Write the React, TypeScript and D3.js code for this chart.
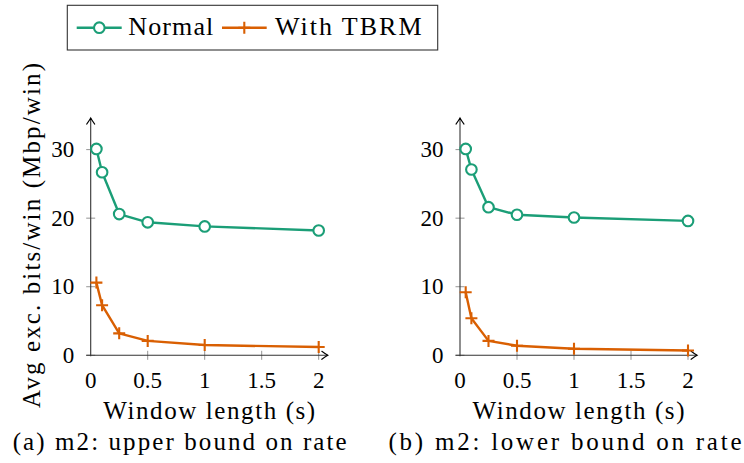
import React from 'react'
import * as d3 from 'd3'

// window lengths in seconds, shared by both panels
const windowLengths = [0.05, 0.1, 0.25, 0.5, 1, 2]
// (a) upper bound on rate
const upperNormal = [30.1, 26.7, 20.6, 19.4, 18.8, 18.2]
const upperTbrm = [10.6, 7.3, 3.2, 2.1, 1.5, 1.2]
// (b) lower bound on rate
const lowerNormal = [30.1, 27.1, 21.6, 20.5, 20.1, 19.6]
const lowerTbrm = [9.2, 5.4, 2.1, 1.4, 0.96, 0.7]

const xTicks = [0, 0.5, 1, 1.5, 2]
const yTicks = [0, 10, 20, 30]
const seriesNames = ['Normal', 'With TBRM']
const captions = ['(a) m2: upper bound on rate', '(b) m2: lower bound on rate']

const GREEN = '#1b9e77'
const ORANGE = '#d95f02'
const FONT = '"Liberation Serif", "Times New Roman", serif'

function Arrow({ x, y, dir }: { x: number; y: number; dir: 'right' | 'up' }) {
  const rot = dir === 'right' ? 0 : -90
  return (
    <path
      d="M-6,-4 Q-2,-1 0,0 Q-2,1 -6,4"
      transform={`translate(${x},${y}) rotate(${rot})`}
      fill="none"
      stroke="#000"
      strokeWidth={1.1}
      strokeLinecap="round"
    />
  )
}

function Panel({ x0, normal, tbrm, caption, captionX, captionW, yLabel }: {
  x0: number; normal: number[]; tbrm: number[]; caption: string; captionX: number; captionW: number; yLabel: boolean
}) {
  const x = d3.scaleLinear().domain([0, 2]).range([x0, x0 + 228])
  const y = d3.scaleLinear().domain([0, 30]).range([355.3, 149.6])
  const line = d3.line<number>().x((_, i) => x(windowLengths[i])).y(d => y(d))

  return (
    <g>
      {/* ticks */}
      {yTicks.map(t => (
        <line key={'yt' + t} x1={x(0) - 4.5} x2={x(0) + 4.5} y1={y(t)} y2={y(t)} stroke="#888" strokeWidth={0.9} />
      ))}
      {xTicks.filter(t => t > 0).map(t => (
        <line key={'xt' + t} x1={x(t)} x2={x(t)} y1={y(0) - 4.5} y2={y(0) + 4.5} stroke="#888" strokeWidth={0.9} />
      ))}
      {/* axes */}
      <line x1={x(0) - 4.5} x2={x(2.08)} y1={y(0)} y2={y(0)} stroke="#333" strokeWidth={1.1} />
      <line x1={x(0)} x2={x(0)} y1={y(0) + 1} y2={y(34.6)} stroke="#333" strokeWidth={1.1} />
      <Arrow x={x(2.08)} y={y(0)} dir="right" />
      <Arrow x={x(0)} y={y(34.6)} dir="up" />

      {/* tick labels */}
      {yTicks.map(t => (
        <text key={'yl' + t} x={x(0) - 16.5} y={y(t) + 7.5} textAnchor="end" fontSize={23} fontFamily={FONT}>{t}</text>
      ))}
      {xTicks.map(t => (
        <text key={'xl' + t} x={x(t)} y={388} textAnchor="middle" fontSize={23} fontFamily={FONT}>{t}</text>
      ))}

      {/* series */}
      <path d={line(normal) || ''} fill="none" stroke={GREEN} strokeWidth={2.4} strokeLinejoin="round" />
      <path d={line(tbrm) || ''} fill="none" stroke={ORANGE} strokeWidth={2.4} strokeLinejoin="round" />
      {normal.map((d, i) => (
        <circle key={'n' + i} cx={x(windowLengths[i])} cy={y(d)} r={5.3} fill="#fff" stroke={GREEN} strokeWidth={2.1} />
      ))}
      {tbrm.map((d, i) => {
        const cx = x(windowLengths[i]), cy = y(d)
        return (
          <path key={'t' + i} d={`M${cx - 6},${cy}H${cx + 6}M${cx},${cy - 6}V${cy + 6}`} stroke={ORANGE} strokeWidth={2.1} />
        )
      })}

      {/* labels */}
      <text x={x0 + 118.5} y={419} textAnchor="middle" fontSize={25} fontFamily={FONT}
        textLength={212} lengthAdjust="spacing">Window length (s)</text>
      <text x={captionX} y={450} textAnchor="middle" fontSize={25} fontFamily={FONT}
        textLength={captionW} lengthAdjust="spacing">{caption}</text>
      {yLabel && (
        <text transform="translate(40,235.5) rotate(-90)" textAnchor="middle" fontSize={25} fontFamily={FONT}
          textLength={345} lengthAdjust="spacing">
          Avg exc. bits/win (Mbp/win)
        </text>
      )}
    </g>
  )
}

function Legend() {
  const ly = 27.7
  return (
    <g>
      <rect x={67.3} y={5.3} width={370.4} height={44.7} fill="#fff" stroke="#333" strokeWidth={1.1} />
      <line x1={76.7} x2={121.7} y1={ly} y2={ly} stroke={GREEN} strokeWidth={2.4} />
      <circle cx={99.3} cy={ly} r={5.3} fill="#fff" stroke={GREEN} strokeWidth={2.1} />
      <text x={128.3} y={34.5} fontSize={26} fontFamily={FONT} textLength={85} lengthAdjust="spacing">{seriesNames[0]}</text>
      <line x1={222} x2={266.7} y1={ly} y2={ly} stroke={ORANGE} strokeWidth={2.4} />
      <path d={`M${244.3 - 6},${ly}H${244.3 + 6}M244.3,${ly - 6}V${ly + 6}`} stroke={ORANGE} strokeWidth={2.1} />
      <text x={275} y={34.5} fontSize={26} fontFamily={FONT} textLength={146.5} lengthAdjust="spacing">{seriesNames[1]}</text>
    </g>
  )
}

export default function App() {
  return (
    <svg width={744} height={463} style={{ position: 'absolute', left: 0, top: 0, background: '#fff' }}>
      <Panel x0={90.7} normal={upperNormal} tbrm={upperTbrm} caption={captions[0]} captionX={179.7} captionW={334} yLabel />
      <Panel x0={460} normal={lowerNormal} tbrm={lowerTbrm} caption={captions[1]} captionX={565} captionW={353} yLabel={false} />
      <Legend />
    </svg>
  )
}
